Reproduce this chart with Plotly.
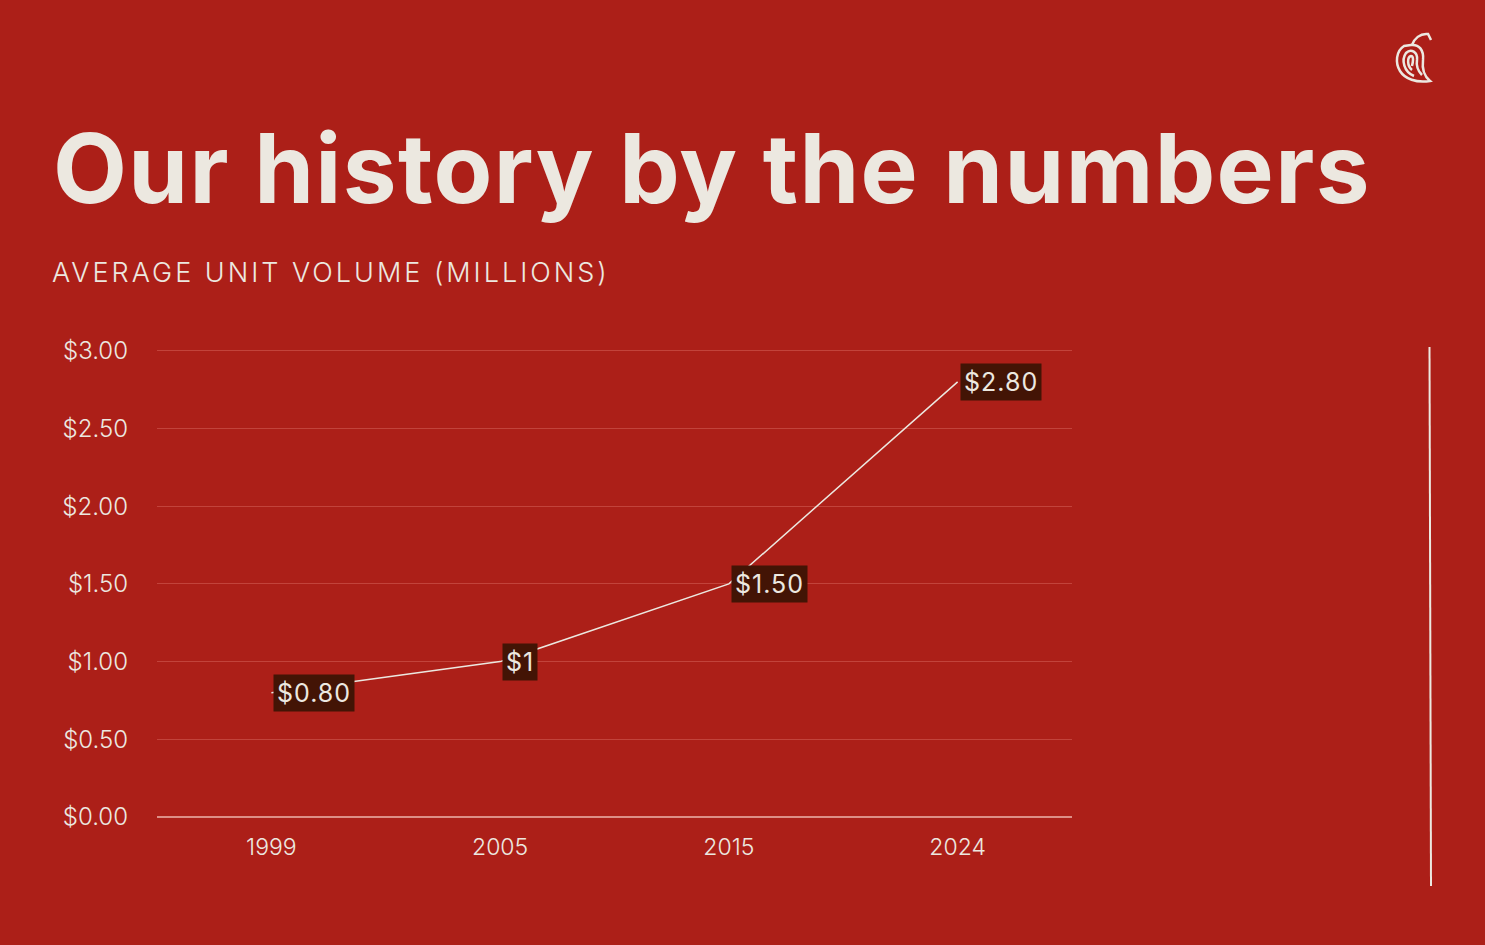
import plotly.graph_objects as go

# data
years = ["1999", "2005", "2015", "2024"]
auv = [0.80, 1.00, 1.50, 2.80]
point_labels = ["$0.80", "$1", "$1.50", "$2.80"]
y_ticks = [0, 0.5, 1.0, 1.5, 2.0, 2.5, 3.0]
y_tick_text = ["$0.00", "$0.50", "$1.00", "$1.50", "$2.00", "$2.50", "$3.00"]

BG = "#AC1F18"
CREAM = "#ECE8E0"
DARK = "#431405"
W, H = 1485, 945
# plot box in pixels; y range goes a bit past 3 so the top grid line is drawn
L, R, T, B = 157, 1072, 343, 817
Y_MAX = 3.05


def px(x):
    return (x - L) / (R - L)


def py(y):
    return (B - y) / (B - T)


fig = go.Figure()
fig.add_trace(go.Scatter(
    x=years, y=auv, mode="lines",
    line=dict(color=CREAM, width=1.5),
    hoverinfo="skip", showlegend=False,
))

# value labels in dark boxes, to the right of each point
# (category axis -> position by index, "1999" would be read as index 1999)
for i, (v, lab) in enumerate(zip(auv, point_labels)):
    fig.add_annotation(
        x=i, y=v, text=f"<span style='letter-spacing:1px'>{lab}</span>",
        showarrow=False, xanchor="left", yanchor="middle", xshift=2,
        bgcolor=DARK, borderpad=3,
        font=dict(family="Inter", size=25, color=CREAM),
    )

# title and subtitle
fig.add_annotation(
    x=px(51), y=py(168), xref="paper", yref="paper",
    text="<span style='letter-spacing:1.4px'>Our history by the numbers</span>",
    showarrow=False, xanchor="left", yanchor="middle",
    font=dict(family="Inter", size=96, color=CREAM, weight=700),
)
fig.add_annotation(
    x=px(50), y=py(272), xref="paper", yref="paper",
    text="<span style='letter-spacing:3px'>AVERAGE UNIT VOLUME (MILLIONS)</span>",
    showarrow=False, xanchor="left", yanchor="middle",
    font=dict(family="Inter", size=27, color=CREAM, weight=300),
)

shapes = []
# thin vertical rule on the right
shapes.append(dict(
    type="line", xref="paper", yref="paper",
    x0=px(1429.5), y0=py(347), x1=px(1431), y1=py(886),
    line=dict(color=CREAM, width=2),
))


# small pepper logo
def path(pts):
    out = []
    for cmd, coords in pts:
        s = " ".join(f"{px(a):.5f},{py(b):.5f}" for a, b in coords)
        out.append(f"{cmd} {s}")
    return " ".join(out)


logo_outer = path([
    ("M", [(1404, 46)]),
    ("C", [(1396, 51), (1395, 63), (1400, 71)]),
    ("C", [(1405, 79), (1416, 83), (1430, 81)]),
    ("C", [(1424, 76), (1422, 68), (1423, 60)]),
    ("C", [(1424, 50), (1419, 44), (1411, 45)]),
    ("Z", []),
])
logo_inner = path([
    ("M", [(1414, 76)]),
    ("C", [(1404, 72), (1401, 60), (1406, 53)]),
    ("C", [(1411, 48), (1418, 52), (1417, 60)]),
    ("C", [(1416, 66), (1418, 71), (1422, 75)]),
])
logo_core = path([
    ("M", [(1412, 70)]),
    ("C", [(1407, 66), (1407, 57), (1411, 56)]),
    ("C", [(1414, 56), (1413, 62), (1412, 66)]),
])
logo_stem = path([
    ("M", [(1412, 45)]),
    ("C", [(1414, 39), (1420, 33), (1428, 34)]),
    ("L", [(1431, 40)]),
])
for p in (logo_outer, logo_inner, logo_core, logo_stem):
    shapes.append(dict(type="path", xref="paper", yref="paper", path=p,
                       line=dict(color=CREAM, width=2.5)))

fig.update_layout(
    width=W, height=H,
    margin=dict(l=L, r=W - R, t=T, b=H - B),
    paper_bgcolor=BG, plot_bgcolor=BG,
    font=dict(family="Inter", color=CREAM),
    shapes=shapes,
    showlegend=False,
    xaxis=dict(
        type="category", range=[-0.5, 3.5],
        showgrid=False, showline=False, zeroline=False,
        ticks="", tickfont=dict(size=23, color=CREAM, weight=300),
        ticklabelstandoff=14,
    ),
    yaxis=dict(
        range=[0, Y_MAX], tickvals=y_ticks, ticktext=y_tick_text,
        showgrid=True, gridcolor="#C2433B", gridwidth=1,
        zeroline=True, zerolinecolor="#DD8F86", zerolinewidth=1.5,
        showline=False, ticks="",
        tickfont=dict(size=24, color=CREAM, weight=300),
        ticklabelstandoff=28,
    ),
)

fig.write_html("out.html", config={"displayModeBar": False},
               post_script="document.body.style.margin='0';")
